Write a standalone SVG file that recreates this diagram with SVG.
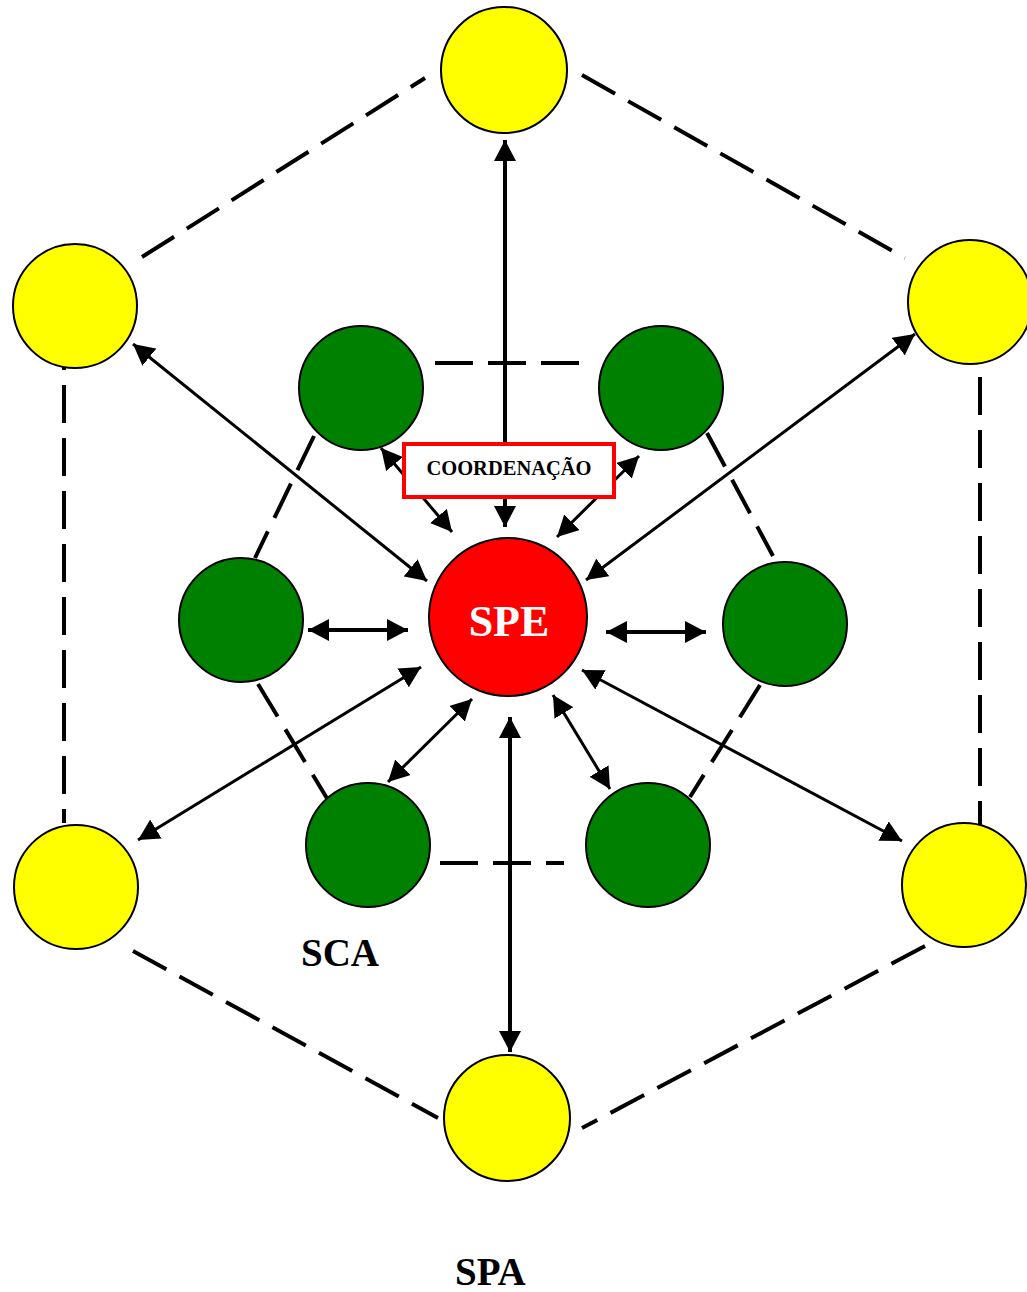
<svg xmlns="http://www.w3.org/2000/svg" width="1027" height="1292" viewBox="0 0 1027 1292">
<style>
.yel{fill:#ffff00;stroke:#000;stroke-width:2}
.grn{fill:#008000;stroke:#000;stroke-width:2}
.red{fill:#ff0000;stroke:#000;stroke-width:2}
.dash{stroke:#000;stroke-width:4;stroke-dasharray:38 15;fill:none}
.arr{stroke:#000;stroke-width:3;fill:none;marker-start:url(#ah);marker-end:url(#ah)}
.arr1{stroke:#000;stroke-width:3;fill:none;marker-end:url(#ah)}
.lbl{font-family:"Liberation Serif","Times New Roman",serif;font-weight:bold}
</style>
<defs>
<marker id="ah" markerUnits="userSpaceOnUse" markerWidth="22" markerHeight="22" refX="21" refY="11" orient="auto-start-reverse" viewBox="0 0 22 22">
<path d="M0,0 L21,11 L0,22 z" fill="#000"/>
</marker>
</defs>
<rect width="1027" height="1292" fill="#fff"/>
<g id="connectors">
<!-- outer hexagon -->
<line class="dash" x1="142" y1="257" x2="425" y2="78"/>
<line class="dash" x1="582" y1="75" x2="905" y2="258"/>
<line class="dash" x1="64" y1="367" x2="64" y2="823" style="stroke-dashoffset:35"/>
<line class="dash" x1="980" y1="377" x2="980" y2="825"/>
<line class="dash" x1="133" y1="951" x2="438" y2="1118"/>
<line class="dash" x1="925" y1="946" x2="582" y2="1128"/>
<!-- inner hexagon -->
<line class="dash" x1="435" y1="363" x2="585" y2="363"/>
<line class="dash" x1="440" y1="863" x2="564" y2="863"/>
<line class="dash" x1="314" y1="436" x2="255" y2="558"/>
<line class="dash" x1="707" y1="433" x2="773" y2="556"/>
<line class="dash" x1="258" y1="684" x2="328" y2="800"/>
<line class="dash" x1="760" y1="685" x2="690" y2="797"/>
<!-- arrows -->
<line class="arr" x1="505" y1="140" x2="505" y2="527" style="stroke-width:4"/>
<line class="arr" x1="510" y1="717" x2="510" y2="1052" style="stroke-width:4"/>
<line class="arr" x1="308" y1="630" x2="408" y2="630" style="stroke-width:4"/>
<line class="arr" x1="606" y1="632" x2="706" y2="632" style="stroke-width:4"/>
<line class="arr" x1="133" y1="344" x2="427" y2="581"/>
<line class="arr" x1="915" y1="334" x2="586" y2="580"/>
<line class="arr" x1="421" y1="667" x2="138" y2="840"/>
<line class="arr" x1="582" y1="670" x2="902" y2="841"/>
<line class="arr" x1="381" y1="448" x2="452" y2="532"/>
<line class="arr" x1="639" y1="456" x2="557" y2="537"/>
<line class="arr" x1="472" y1="699" x2="388" y2="782"/>
<line class="arr" x1="553" y1="695" x2="610" y2="789"/>
</g>
<g id="coordenacao">
<rect x="404" y="444" width="210" height="53" fill="#fff" stroke="#ff0000" stroke-width="4"/>
<text class="lbl" x="509" y="475" font-size="20.5" text-anchor="middle" fill="#000">COORDENAÇÃO</text>
</g>
<g id="y-top"><circle class="yel" cx="504" cy="70" r="63"/></g>
<g id="y-ul"><circle class="yel" cx="75" cy="306" r="62"/></g>
<g id="y-ur"><circle class="yel" cx="970" cy="302" r="62"/></g>
<g id="y-ll"><circle class="yel" cx="76" cy="887" r="62"/></g>
<g id="y-lr"><circle class="yel" cx="964" cy="885" r="62"/></g>
<g id="y-bot"><circle class="yel" cx="507" cy="1118" r="63"/></g>
<g id="g-ul"><circle class="grn" cx="361" cy="388" r="62"/></g>
<g id="g-ur"><circle class="grn" cx="661" cy="388" r="62"/></g>
<g id="g-l"><circle class="grn" cx="241" cy="620" r="62"/></g>
<g id="g-r"><circle class="grn" cx="785" cy="624" r="62"/></g>
<g id="g-ll"><circle class="grn" cx="368" cy="845" r="62"/></g>
<g id="g-lr"><circle class="grn" cx="648" cy="845" r="62"/></g>
<g id="spe">
<circle class="red" cx="508" cy="617" r="79"/>
<text class="lbl" x="509" y="636" font-size="44" text-anchor="middle" fill="#fff">SPE</text>
</g>
<g id="sca"><text class="lbl" x="301" y="966" font-size="39" fill="#000">SCA</text></g>
<g id="spa"><text class="lbl" x="455" y="1285" font-size="39" fill="#000">SPA</text></g>
</svg>
